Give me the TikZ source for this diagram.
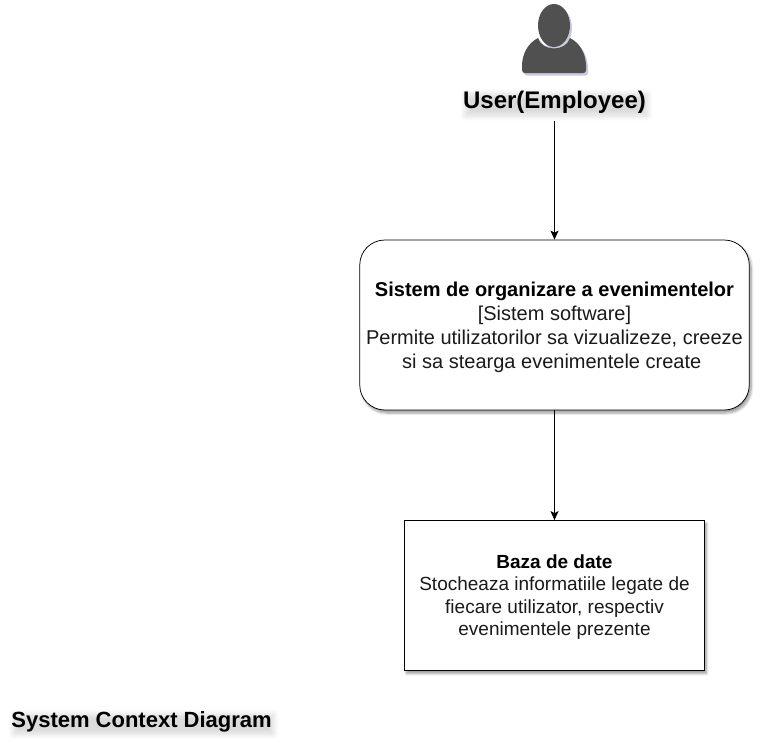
\documentclass[tikz,border=0pt]{standalone}
\usepackage{fontspec}
\setmainfont{Liberation Sans}
\usetikzlibrary{shadows.blur,arrows.meta}
\definecolor{softshadow}{RGB}{120,125,170}
\definecolor{inktext}{RGB}{26,26,26}
\definecolor{personfill}{RGB}{80,80,80}
\tikzset{every path/.style={line width=.75pt}}
\tikzset{softbox/.style={draw=black,fill=white,align=center,text=inktext,font=\fontsize{20}{24}\selectfont,
    blur shadow={shadow xshift=2pt,shadow yshift=-3pt,shadow blur radius=2.5pt,shadow blur steps=6,shadow opacity=40}}}
\tikzset{softtitle/.style={inner sep=0pt,
    blur shadow={shadow xshift=2pt,shadow yshift=-3pt,shadow blur radius=5pt,shadow blur steps=8,shadow opacity=14}}}
\begin{document}
\begin{tikzpicture}[x=1pt,y=-1pt]
    \useasboundingbox (0,0) rectangle (762,753);
    % person
    \fill[softshadow,opacity=.4,xshift=2pt,yshift=-2.5pt] (554,25.5) ellipse [x radius=16,y radius=21.5];
    \fill[softshadow,opacity=.4,xshift=2pt,yshift=-2.5pt] (538,38) .. controls (542,48) and (566,48) .. (570,38)
    .. controls (580,43) and (586,54) .. (586,66) -- (586,70) .. controls (586,72) and (585,73) .. (583,73)
    -- (525,73) .. controls (523,73) and (522,72) .. (522,70) -- (522,66) .. controls (522,54) and (528,43) .. (538,38) -- cycle;
    \fill[personfill] (554,25.5) ellipse [x radius=16,y radius=21.5];
    \fill[personfill] (538,38) .. controls (542,52) and (566,52) .. (570,38)
    .. controls (580,43) and (586,54) .. (586,66) -- (586,70) .. controls (586,72) and (585,73) .. (583,73)
    -- (525,73) .. controls (523,73) and (522,72) .. (522,70) -- (522,66) .. controls (522,54) and (528,43) .. (538,38) -- cycle;
    \node[softtitle,font=\bfseries\fontsize{24}{28}\selectfont] (user) at (554.5,102) {User(Employee)};
    \node[softbox,rounded corners=25pt,minimum width=389.5pt,minimum height=170pt,inner sep=0pt] (sistem) at (554.5,325) {%
      \rule{0pt}{18.5pt}\textcolor{black}{\textbf{Sistem de organizare a evenimentelor}}\\
      {[Sistem software]}\\
      Permite utilizatorilor sa vizualizeze, creeze\\
      si sa stearga evenimentele create\kern5.5pt};
    \node[softbox,font=\fontsize{19}{22.2}\selectfont,minimum width=300pt,minimum height=150pt,inner sep=0pt] (baza) at (554.5,595.5) {%
      \rule{0pt}{17pt}\textcolor{black}{\textbf{Baza de date}}\\
      Stocheaza informatiile legate de\\
      fiecare utilizator, respectiv\\
      evenimentele prezente};
    \node[softtitle,anchor=base west,font=\bfseries\fontsize{22}{26}\selectfont] (titlu) at (11,727) {System Context Diagram};
    \coordinate (userout) at (554.5,121);
    \path[->,>={Stealth[length=9pt,width=8pt,inset=2pt]}] (userout) edge (sistem.north);
    \path[->,>={Stealth[length=9pt,width=8pt,inset=2pt]}] (sistem.south) edge (baza.north);
\end{tikzpicture}
\end{document}
